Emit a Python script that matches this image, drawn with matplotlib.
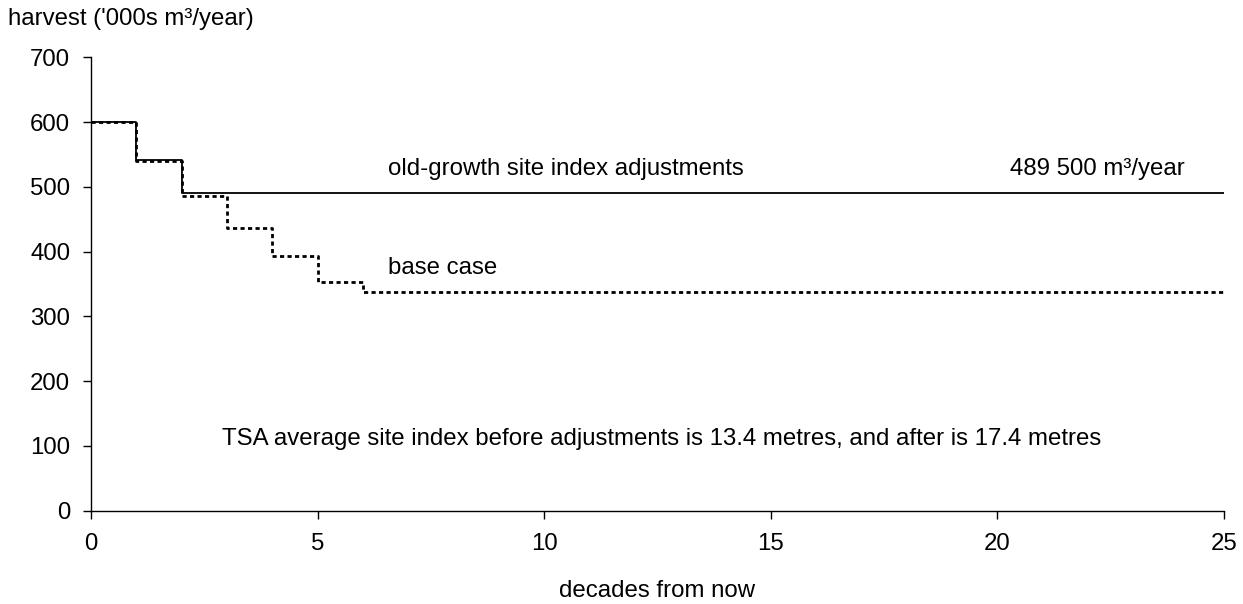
import numpy as np
import matplotlib.pyplot as plt

plt.rcParams['font.family'] = ['Liberation Sans', 'DejaVu Sans']

# decade boundaries and harvest levels ('000s m3/year)
adj_edges = [0, 1, 2, 25]
adj_levels = [600, 542, 490]
base_edges = [0, 1, 2, 3, 4, 5, 6, 25]
base_levels = [600, 540, 486, 437, 393, 353, 338]

x_ticks = [0, 5, 10, 15, 20, 25]
y_ticks = [0, 100, 200, 300, 400, 500, 600, 700]

fig = plt.figure(figsize=(12.43, 6.04), dpi=100)
ax = fig.add_axes([0.0732, 0.1545, 0.9113, 0.7506])

fs = 17.3

ax.step(base_edges, base_levels + [base_levels[-1]], where='post',
        color='black', lw=2.0, linestyle=(0, (1.5, 1.2)))
ax.step(adj_edges, adj_levels + [adj_levels[-1]], where='post',
        color='black', lw=1.3)

ax.set_xlim(0, 25)
ax.set_ylim(0, 700)
ax.set_xticks(x_ticks)
ax.set_yticks(y_ticks)
for s in ['top', 'right']:
    ax.spines[s].set_visible(False)
for s in ['left', 'bottom']:
    ax.spines[s].set_linewidth(1.0)
ax.tick_params(axis='both', labelsize=fs, length=6, width=1.0, direction='out')
ax.tick_params(axis='y', pad=9)
ax.tick_params(axis='x', pad=10)

ax.set_xlabel('decades from now', fontsize=fs, labelpad=18)
fig.text(8 / 1243, 1 - 19 / 604, "harvest ('000s m³/year)", fontsize=fs,
         ha='left', va='center')

ax.text(6.56, 527, 'old-growth site index adjustments', fontsize=fs,
        ha='left', va='center')
ax.text(24.15, 527, '489 500 m³/year', fontsize=fs, ha='right', va='center')
ax.text(6.56, 374, 'base case', fontsize=fs, ha='left', va='center')
ax.text(2.89, 110,
        'TSA average site index before adjustments is 13.4 metres, and after is 17.4 metres',
        fontsize=fs, ha='left', va='center')

fig.savefig('out.png', dpi=100)
